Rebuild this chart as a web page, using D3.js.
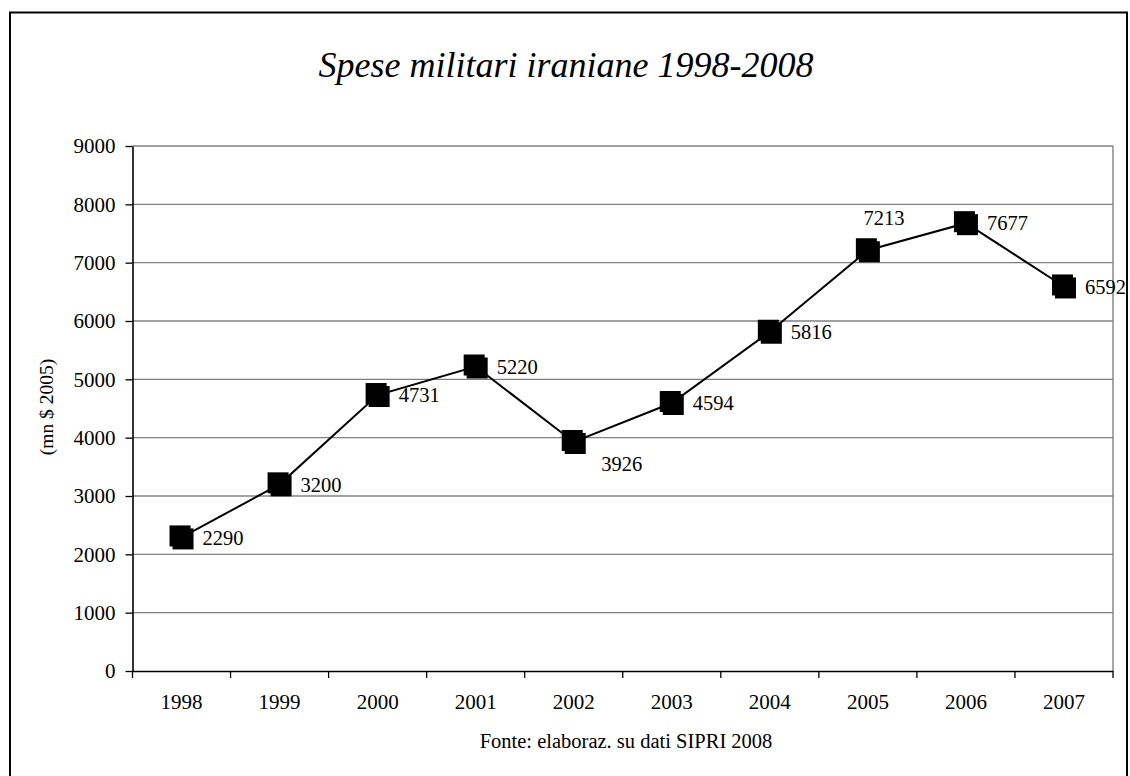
<!DOCTYPE html>
<html>
<head>
<meta charset="utf-8">
<script src="https://cdn.jsdelivr.net/npm/d3@7"></script>
<style>
  html, body { margin: 0; padding: 0; background: #fff; }
  svg { display: block; font-family: "Liberation Serif", "Times New Roman", serif; }
</style>
</head>
<body>
<svg id="chart" width="1130" height="776"></svg>
<script>
// Iranian military spending, constant 2005 US$ (millions)
const years = ["1998", "1999", "2000", "2001", "2002", "2003", "2004", "2005", "2006", "2007"];
const spending = [2290, 3200, 4731, 5220, 3926, 4594, 5816, 7213, 7677, 6592];
const labelPlacement = ["right", "right", "right", "right", "belowRight", "right", "right", "above", "right", "right"];
const yTicks = [0, 1000, 2000, 3000, 4000, 5000, 6000, 7000, 8000, 9000];

const titleText = "Spese militari iraniane 1998-2008";
const yAxisTitle = "(mn $ 2005)";
const sourceText = "Fonte: elaboraz. su dati SIPRI 2008";

const FONT = "'Liberation Serif', 'Times New Roman', serif";
const svg = d3.select("#chart");
const plot = { left: 132.5, right: 1113, top: 146, bottom: 671 };

// outer frame
svg.append("rect")
  .attr("x", 10).attr("y", 12.5)
  .attr("width", 1117).attr("height", 780)
  .attr("fill", "none").attr("stroke", "#000").attr("stroke-width", 2);

const x = d3.scaleBand().domain(years).range([plot.left, plot.right]).padding(0);
const y = d3.scaleLinear().domain([0, 9000]).range([plot.bottom, plot.top]);

// horizontal gridlines
svg.append("g").selectAll("line").data(yTicks.filter(d => d > 0)).join("line")
  .attr("x1", plot.left).attr("x2", plot.right)
  .attr("y1", d => y(d)).attr("y2", d => y(d))
  .attr("stroke", "#808080").attr("stroke-width", 1.4);

// right edge of plot area
svg.append("line")
  .attr("x1", plot.right).attr("x2", plot.right)
  .attr("y1", plot.top).attr("y2", plot.bottom)
  .attr("stroke", "#808080").attr("stroke-width", 1.4);

// y axis
const yAxis = svg.append("g")
  .attr("transform", `translate(${plot.left},0)`)
  .call(d3.axisLeft(y).tickValues(yTicks).tickFormat(d3.format("d"))
    .tickSize(7).tickPadding(10).tickSizeOuter(0));
yAxis.attr("font-family", FONT);
yAxis.select(".domain").attr("stroke", "#000").attr("stroke-width", 1.6);
yAxis.selectAll(".tick line").attr("stroke", "#000").attr("stroke-width", 1.3);
yAxis.selectAll(".tick text").attr("font-size", 21).attr("fill", "#000");

// x axis: labels centred in each band, ticks on band boundaries
const xAxis = svg.append("g")
  .attr("transform", `translate(0,${plot.bottom})`)
  .call(d3.axisBottom(x).tickSize(0).tickPadding(23).tickSizeOuter(0));
xAxis.attr("font-family", FONT);
xAxis.select(".domain").attr("stroke", "#000").attr("stroke-width", 1.6);
xAxis.selectAll(".tick text").attr("font-size", 21).attr("fill", "#000");
const boundaries = years.map(d => x(d)).concat([x.range()[1]]);
xAxis.append("g").selectAll("line").data(boundaries).join("line")
  .attr("x1", d => d).attr("x2", d => d)
  .attr("y1", 0).attr("y2", 7)
  .attr("stroke", "#000").attr("stroke-width", 1.3);

// data line
const pts = years.map((d, i) => ({ year: d, value: spending[i], place: labelPlacement[i] }));
const cx = d => x(d.year) + x.bandwidth() / 2;
const cy = d => y(d.value);

svg.append("path")
  .datum(pts)
  .attr("fill", "none").attr("stroke", "#000").attr("stroke-width", 2)
  .attr("d", d3.line().x(cx).y(cy));

// square markers (slightly offset double square)
const s = 21, off = 3;
const markers = svg.append("g").selectAll("g").data(pts).join("g")
  .attr("transform", d => `translate(${cx(d) - (s + off) / 2},${cy(d) - (s + off) / 2})`);
markers.append("rect").attr("x", 0).attr("y", 0).attr("width", s).attr("height", s).attr("fill", "#000");
markers.append("rect").attr("x", off).attr("y", off).attr("width", s).attr("height", s).attr("fill", "#000");

// value labels
svg.append("g").attr("font-family", FONT).selectAll("text").data(pts).join("text")
  .attr("font-size", 20.5).attr("fill", "#000")
  .attr("x", d => d.place === "above" ? cx(d) + 16 : d.place === "belowRight" ? cx(d) + 48 : cx(d) + 21)
  .attr("y", d => d.place === "above" ? cy(d) - 32 : d.place === "belowRight" ? cy(d) + 22 : cy(d))
  .attr("dy", "0.35em")
  .attr("text-anchor", d => d.place === "right" ? "start" : "middle")
  .text(d => d.value);

// titles
svg.append("text")
  .attr("x", 566).attr("y", 77)
  .attr("text-anchor", "middle")
  .attr("font-family", FONT)
  .attr("font-size", 36).attr("font-style", "italic")
  .text(titleText);

svg.append("text")
  .attr("transform", "translate(53,407) rotate(-90)")
  .attr("text-anchor", "middle")
  .attr("font-family", FONT)
  .attr("font-size", 19.5)
  .text(yAxisTitle);

svg.append("text")
  .attr("x", 626).attr("y", 748)
  .attr("text-anchor", "middle")
  .attr("font-family", FONT)
  .attr("font-size", 20.5)
  .text(sourceText);
</script>
</body>
</html>
